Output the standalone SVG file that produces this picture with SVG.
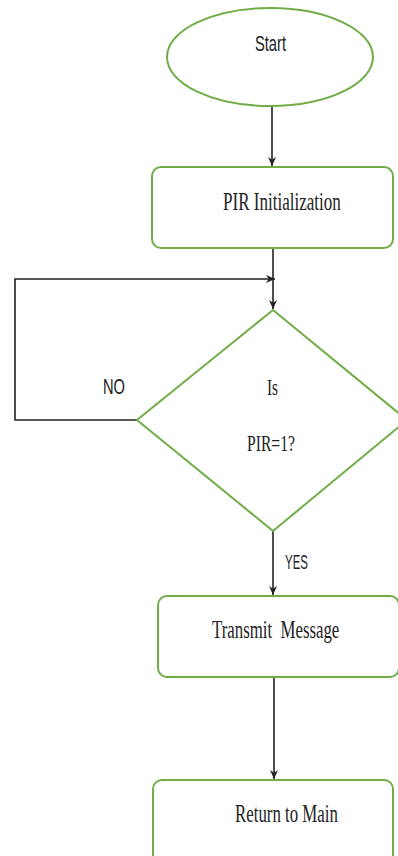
<svg xmlns="http://www.w3.org/2000/svg" width="398" height="856" viewBox="0 0 398 856">
<style>
.shape{fill:#ffffff;stroke:#70ad47;stroke-width:2}
.conn{fill:none;stroke:#222222;stroke-width:1.6}
.sans{font-family:"Liberation Sans","Open Sans",sans-serif;fill:#222222}
.serif{font-family:"Liberation Serif","DejaVu Serif",serif;fill:#222222;white-space:pre}
</style>
<defs>
<marker id="arrow" viewBox="0 0 10 10" refX="10" refY="5" markerWidth="10" markerHeight="9" markerUnits="userSpaceOnUse" orient="auto">
<path d="M0,0.5 L10,5 L0,9.5 L3,5 Z" fill="#222222"/>
</marker>
</defs>
<rect width="398" height="856" fill="#ffffff"/>
<g id="connectors">
<line class="conn" x1="272" y1="106" x2="272" y2="166" marker-end="url(#arrow)"/>
<line class="conn" x1="273" y1="248" x2="273" y2="309" marker-end="url(#arrow)"/>
<polyline class="conn" points="137,420 15,420 15,279 275,279" marker-end="url(#arrow)"/>
<line class="conn" x1="273" y1="531" x2="273" y2="595" marker-end="url(#arrow)"/>
<line class="conn" x1="274" y1="677" x2="274" y2="779" marker-end="url(#arrow)"/>
<text class="sans" transform="translate(103,394) scale(0.667,1)" font-size="22">NO</text>
<text class="sans" transform="translate(285,569) scale(0.575,1)" font-size="20">YES</text>
</g>
<g id="start">
<ellipse class="shape" cx="270" cy="57" rx="103" ry="49"/>
<text class="sans" transform="translate(255,51) scale(0.667,1)" font-size="22">Start</text>
</g>
<g id="pir-init">
<rect class="shape" x="152" y="167" width="241" height="81" rx="9"/>
<text class="serif" transform="translate(223,210) scale(0.656,1)" font-size="26">PIR Initialization</text>
</g>
<g id="decision">
<polygon class="shape" points="273,310 407,420 273,531 137,420"/>
<text class="serif" transform="translate(267,395) scale(0.635,1)" font-size="24">Is</text>
<text class="serif" transform="translate(247,451) scale(0.68,1)" font-size="23">PIR=1?</text>
</g>
<g id="transmit">
<rect class="shape" x="158" y="596" width="241" height="81" rx="9"/>
<text class="serif" transform="translate(212,638) scale(0.647,1)" font-size="26">Transmit  Message</text>
</g>
<g id="return">
<rect class="shape" x="153" y="780" width="240" height="90" rx="9"/>
<text class="serif" transform="translate(235,822) scale(0.648,1)" font-size="26">Return to Main</text>
</g>
</svg>
